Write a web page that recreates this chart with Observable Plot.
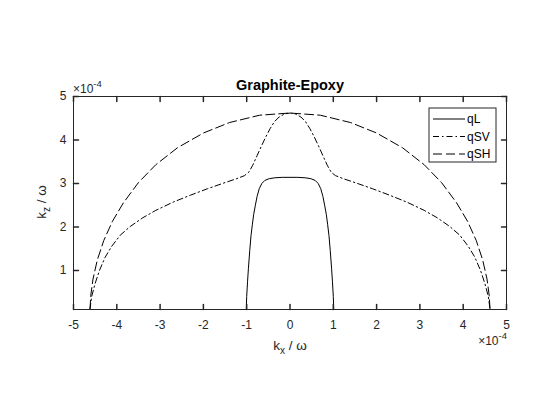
<!DOCTYPE html>
<html><head><meta charset="utf-8">
<script src="https://cdn.jsdelivr.net/npm/d3@7"></script>
<script src="https://cdn.jsdelivr.net/npm/@observablehq/plot@0.6"></script>
<style>
body{margin:0;background:#fff;}
#chart{position:relative;width:560px;height:420px;}
</style></head><body><div id="chart"></div>
<script>
const title = "Graphite-Epoxy";
const xTicks = [-5,-4,-3,-2,-1,0,1,2,3,4,5];
const yTicks = [1,2,3,4,5];
const seriesNames = ["qL","qSV","qSH"];

// qL (solid)
const qL_kx = [-1.01,-1.00,-0.98,-0.96,-0.93,-0.90,-0.87,-0.84,-0.80,-0.76,-0.71,-0.65,-0.58,-0.48,-0.35,-0.18,0,
                0.18,0.35,0.48,0.58,0.65,0.71,0.76,0.80,0.84,0.87,0.90,0.93,0.96,0.98,1.00,1.01];
const qL_kz = [0.10,0.40,0.75,1.05,1.45,1.80,2.05,2.28,2.50,2.70,2.88,3.00,3.07,3.11,3.13,3.14,3.14,
               3.14,3.13,3.11,3.07,3.00,2.88,2.70,2.50,2.28,2.05,1.80,1.45,1.05,0.75,0.40,0.10];

// qSV (dash-dot)
const qSV_kx = [-4.62,-4.58,-4.50,-4.40,-4.27,-4.12,-3.92,-3.69,-3.40,-3.10,-2.70,-2.30,-1.90,-1.50,-1.23,-1.05,-0.95,-0.86,-0.76,-0.66,-0.56,-0.46,-0.36,-0.25,-0.12,0,
                0.12,0.25,0.36,0.46,0.56,0.66,0.76,0.86,0.95,1.05,1.23,1.50,1.90,2.30,2.70,3.10,3.40,3.69,3.92,4.12,4.27,4.40,4.50,4.58,4.62];
const qSV_kz = [0.10,0.40,0.70,1.00,1.30,1.55,1.81,2.01,2.21,2.38,2.57,2.73,2.88,3.02,3.11,3.18,3.26,3.42,3.64,3.86,4.07,4.26,4.42,4.53,4.60,4.62,
                4.60,4.53,4.42,4.26,4.07,3.86,3.64,3.42,3.26,3.18,3.11,3.02,2.88,2.73,2.57,2.38,2.21,2.01,1.81,1.55,1.30,1.00,0.70,0.40,0.10];

// qSH (dashed)
const qSH_kx = [-4.62,-4.60,-4.55,-4.45,-4.30,-4.10,-3.85,-3.50,-3.10,-2.60,-2.00,-1.40,-0.70,0,
                0.70,1.40,2.00,2.60,3.10,3.50,3.85,4.10,4.30,4.45,4.55,4.60,4.62];
const qSH_kz = [0.10,0.43,0.80,1.24,1.69,2.13,2.55,3.02,3.43,3.82,4.16,4.40,4.57,4.62,
                4.57,4.40,4.16,3.82,3.43,3.02,2.55,2.13,1.69,1.24,0.80,0.43,0.10];

const dashes = {qL: null, qSV: "6,3,1.5,3", qSH: "9,4"};
const toRows = (xs, ys) => xs.map((x, i) => ({x, y: ys[i]}));
const rows = {qL: toRows(qL_kx, qL_kz), qSV: toRows(qSV_kx, qSV_kz), qSH: toRows(qSH_kx, qSH_kz)};

const ink = "#262626";
const tickShape = {draw(ctx, l) { ctx.moveTo(0, 0); ctx.lineTo(0, -l); }};
const font = "'Liberation Sans', Arial, Helvetica, sans-serif";

const svg = Plot.plot({
  width: 560, height: 420,
  marginLeft: 73, marginRight: 54, marginTop: 96, marginBottom: 111,
  x: {domain: [-5, 5]},
  y: {domain: [0.1, 5]},
  style: {fontFamily: font, fontSize: "12px", color: ink, background: "white"},
  marks: [
    ...seriesNames.map(s => Plot.line(rows[s], {x: "x", y: "y", stroke: "black", strokeWidth: 1, strokeDasharray: dashes[s]})),
    Plot.frame({stroke: ink}),
    Plot.axisX({ticks: xTicks, tickSize: 0, tickPadding: 11, tickFormat: d => String(d), label: null, fill: ink}),
    Plot.axisY({ticks: yTicks, tickSize: 0, tickPadding: 7, tickFormat: d => String(d), label: null, fill: ink}),
    Plot.vector(xTicks, {x: d => d, frameAnchor: "bottom", length: 5, rotate: 0, anchor: "start", shape: tickShape, stroke: ink}),
    Plot.vector(xTicks, {x: d => d, frameAnchor: "top", length: 5, rotate: 180, anchor: "start", shape: tickShape, stroke: ink}),
    Plot.vector(yTicks, {y: d => d, frameAnchor: "left", length: 5, rotate: 90, anchor: "start", shape: tickShape, stroke: ink}),
    Plot.vector(yTicks, {y: d => d, frameAnchor: "right", length: 5, rotate: -90, anchor: "start", shape: tickShape, stroke: ink})
  ]
});
document.getElementById("chart").appendChild(svg);

const g = d3.select(svg).append("g").attr("font-family", font);
// title
g.append("text").attr("x", 290).attr("y", 89.5).attr("text-anchor", "middle")
  .attr("font-weight", "bold").attr("font-size", 14.5).attr("fill", "black").text(title);
// x label
const xl = g.append("text").attr("x", 290).attr("y", 350).attr("text-anchor", "middle").attr("font-size", 13.5).attr("fill", ink);
xl.append("tspan").text("k");
xl.append("tspan").attr("font-size", 10).attr("dy", 4).text("x");
xl.append("tspan").attr("dy", -4).text(" / ω");
// y label
const yl = g.append("text").attr("transform", "translate(46,202) rotate(-90)").attr("text-anchor", "middle").attr("font-size", 13.5).attr("fill", ink);
yl.append("tspan").text("k");
yl.append("tspan").attr("font-size", 10).attr("dy", 4).text("z");
yl.append("tspan").attr("dy", -4).text(" / ω");
// exponent labels
function expLabel(x, y, anchor) {
  const t = g.append("text").attr("x", x).attr("y", y).attr("text-anchor", anchor).attr("font-size", 12).attr("fill", ink);
  t.append("tspan").text("×10");
  t.append("tspan").attr("font-size", 9.5).attr("dy", -6).text("-4");
  return t;
}
expLabel(73, 93, "start");
expLabel(507, 345, "end");
// legend
const lg = g.append("g").attr("transform", "translate(429,108)");
lg.append("rect").attr("width", 67).attr("height", 54).attr("fill", "white").attr("stroke", ink);
seriesNames.forEach((s, i) => {
  const yy = 11 + i * 17.5;
  lg.append("line").attr("x1", 4).attr("x2", 36).attr("y1", yy).attr("y2", yy)
    .attr("stroke", "black").attr("stroke-dasharray", dashes[s]);
  lg.append("text").attr("x", 38).attr("y", yy).attr("dy", "0.35em").attr("text-anchor", "start")
    .attr("font-size", 12).attr("fill", "black").text(s);
});
</script></body></html>
